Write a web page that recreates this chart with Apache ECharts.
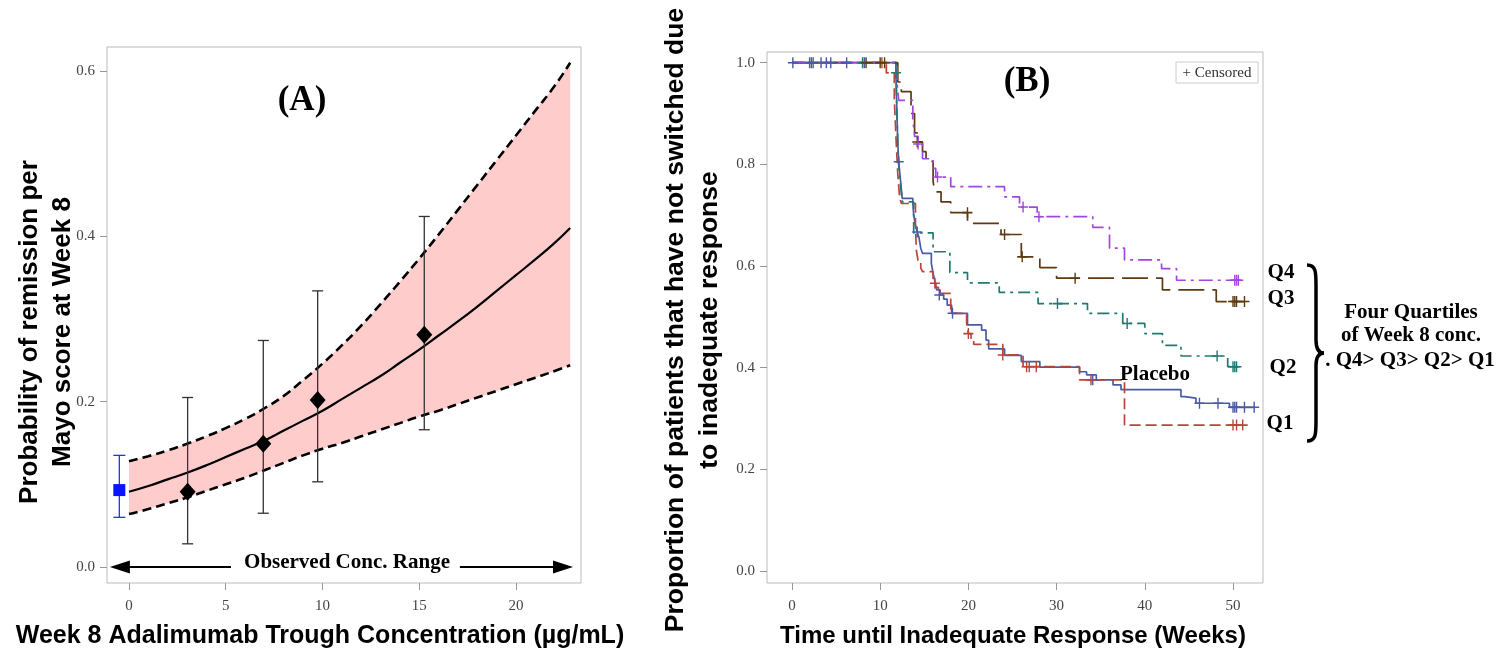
<!DOCTYPE html>
<html><head><meta charset="utf-8">
<script src="https://cdn.jsdelivr.net/npm/echarts@6/dist/echarts.min.js"></script>
<style>html,body{margin:0;padding:0;background:#fff}#c{width:1498px;height:651px}</style>
</head><body><div id="c"></div>
<script>
// ---------- Panel A data ----------
const concX  = [0,1,2,3,4,5,6,7,8,9,10,11,12,13,14,15,16,17,18,19,20,21,22,22.8];
const fitY   = [0.091,0.098,0.106,0.114,0.123,0.133,0.143,0.153,0.165,0.177,0.189,0.203,0.217,0.231,0.247,0.263,0.280,0.297,0.315,0.334,0.353,0.372,0.392,0.410];
const upperY = [0.128,0.134,0.141,0.149,0.158,0.168,0.179,0.192,0.207,0.226,0.246,0.268,0.292,0.318,0.345,0.373,0.402,0.432,0.462,0.492,0.522,0.552,0.582,0.610];
const lowerY = [0.064,0.070,0.077,0.084,0.092,0.100,0.108,0.117,0.126,0.135,0.143,0.150,0.158,0.166,0.174,0.182,0.189,0.197,0.205,0.213,0.221,0.229,0.237,0.244];
const quartileConc = [3.03,6.94,9.75,15.26];
const quartileProb = [0.091,0.149,0.202,0.281];
const quartileLo   = [0.028,0.065,0.103,0.166];
const quartileHi   = [0.205,0.274,0.334,0.424];
const placeboConc = [-0.5];
const placeboProb = [0.093];
const placeboLo   = [0.060];
const placeboHi   = [0.135];
const xTicksA = [0,5,10,15,20];
const yTicksA = [0,0.2,0.4,0.6];

// ---------- Panel B data ----------
const kmNames = ['Placebo','Q1','Q2','Q3','Q4'];
const placeboKM = [[0,1],[11.8,0.97],[11.9,0.90],[12.0,0.84],[12.1,0.805],[12.3,0.77],[12.5,0.733],[13.7,0.725],[13.8,0.70],[14.0,0.68],[14.2,0.667],[14.4,0.656],[14.6,0.635],[14.8,0.625],[15.8,0.605],[16.0,0.586],[16.2,0.57],[16.4,0.553],[16.8,0.543],[17.2,0.535],[17.6,0.523],[18.1,0.507],[19.9,0.484],[21.5,0.474],[22.0,0.454],[22.3,0.437],[24.1,0.424],[26.0,0.412],[28.1,0.401],[32.6,0.392],[33.4,0.386],[34.5,0.376],[36.4,0.366],[37.3,0.357],[44.1,0.343],[44.5,0.34],[45.8,0.33],[49.6,0.322],[52.4,0.322]];
const placeboCens = [[0.1,1],[2.0,1],[2.2,1],[2.4,1],[3.3,1],[3.9,1],[4.4,1],[6.2,1],[8.2,1],[12.1,0.805],[14.2,0.667],[16.7,0.543],[18.2,0.507],[34.1,0.376],[46.2,0.33],[48.3,0.33],[50.0,0.322],[50.2,0.322],[50.4,0.322],[51.3,0.322],[52.4,0.322]];
const q1KM = [[0,1],[10.7,0.98],[11.6,0.93],[11.8,0.85],[12.0,0.78],[12.2,0.735],[12.4,0.723],[14.0,0.68],[14.1,0.631],[14.3,0.61],[14.6,0.596],[14.8,0.589],[16.0,0.566],[16.3,0.558],[16.6,0.546],[18.0,0.507],[19.8,0.487],[20.0,0.467],[20.3,0.455],[20.6,0.446],[23.9,0.425],[26.2,0.402],[32.6,0.376],[37.7,0.287],[51.1,0.287]];
const q1Cens = [[10.2,1],[16.2,0.566],[20.0,0.467],[23.9,0.425],[26.6,0.402],[26.9,0.402],[27.7,0.402],[33.9,0.376],[50.0,0.287],[50.4,0.287],[51.1,0.287]];
const q2KM = [[0,1],[11.8,0.98],[11.9,0.90],[12.0,0.84],[12.1,0.80],[12.3,0.76],[12.5,0.726],[13.8,0.665],[16.0,0.628],[17.9,0.587],[19.9,0.567],[23.5,0.548],[27.9,0.526],[33.5,0.507],[37.5,0.487],[40.0,0.467],[42.0,0.444],[44.1,0.423],[49.4,0.402],[50.6,0.402]];
const q2Cens = [[8.0,1],[11.8,0.98],[30.1,0.526],[38.0,0.487],[48.2,0.423],[50.0,0.402],[50.2,0.402],[50.4,0.402]];
const q3KM = [[0,1],[12.0,0.962],[12.4,0.943],[13.5,0.90],[13.9,0.862],[14.2,0.844],[14.8,0.825],[15.2,0.806],[16.0,0.766],[16.2,0.746],[16.9,0.726],[18.0,0.705],[19.9,0.684],[23.7,0.662],[26.0,0.618],[28.1,0.597],[30.0,0.576],[42.0,0.553],[48.1,0.53],[51.3,0.53]];
const q3Cens = [[8.4,1],[10.0,1],[10.5,1],[14.2,0.844],[19.9,0.705],[24.1,0.662],[26.1,0.618],[32.1,0.576],[50.0,0.53],[50.2,0.53],[50.4,0.53],[51.3,0.53]];
const q4KM = [[0,1],[11.9,0.963],[12.1,0.926],[13.7,0.89],[13.9,0.855],[14.3,0.84],[14.8,0.811],[16.0,0.792],[16.3,0.775],[18.0,0.756],[24.1,0.736],[25.8,0.716],[27.8,0.697],[34.1,0.676],[36.0,0.635],[37.7,0.612],[41.9,0.595],[43.6,0.572],[50.9,0.572]];
const q4Cens = [[14.3,0.84],[16.5,0.775],[26.2,0.716],[28.0,0.697],[50.2,0.572],[50.4,0.572],[50.6,0.572]];
const xTicksB = [0,10,20,30,40,50];
const yTicksB = [0,0.2,0.4,0.6,0.8,1.0];

// ---------- styling ----------
const kmData = [placeboKM,q1KM,q2KM,q3KM,q4KM];
const kmCens = [placeboCens,q1Cens,q2Cens,q3Cens,q4Cens];
const kmColors = ['#4a5ba6','#b5473a','#1f7a70','#5e3a12','#a346e0'];
const kmDash = ['solid',[11,5],[12,5,3,5],[26,8],[14,5,3,5]];
const PLUS = 'path://M4.3,0H5.7V4.3H10V5.7H5.7V10H4.3V5.7H0V4.3H4.3Z';
const SERIF = '"Liberation Serif", "Times New Roman", serif';
const SANS = '"Liberation Sans", Arial, sans-serif';

function axisCommon(ticks, fmt, margin){
  return {
    axisLine:{show:false, onZero:false},
    axisTick:{show:true, customValues:ticks, length:7, lineStyle:{color:'#999', width:1}},
    axisLabel:{customValues:ticks, formatter:fmt, fontFamily:SERIF, fontSize:15, color:'#444', margin:margin},
    splitLine:{show:false}
  };
}

function errorBars(xs, lo, hi, color, capW, lw){
  return {
    type:'custom', xAxisIndex:0, yAxisIndex:0, z:4, silent:true,
    encode:{x:0, y:[1,2]},
    data: xs.map((x,i)=>[x, lo[i], hi[i]]),
    renderItem(params, api){
      const x = api.value(0);
      const a = api.coord([x, api.value(1)]);
      const b = api.coord([x, api.value(2)]);
      const st = {stroke:color, lineWidth:lw};
      return {type:'group', children:[
        {type:'line', shape:{x1:a[0],y1:a[1],x2:b[0],y2:b[1]}, style:st},
        {type:'line', shape:{x1:a[0]-capW/2,y1:a[1],x2:a[0]+capW/2,y2:a[1]}, style:st},
        {type:'line', shape:{x1:b[0]-capW/2,y1:b[1],x2:b[0]+capW/2,y2:b[1]}, style:st}
      ]};
    }
  };
}

const series = [];
// CI band
series.push({
  type:'custom', xAxisIndex:0, yAxisIndex:0, z:1, silent:true,
  encode:{x:0, y:[1,2]},
  data: concX.map((x,i)=>[x, lowerY[i], upperY[i]]),
  renderItem(params, api){
    if (params.dataIndex !== 0) return null;
    const pts = [];
    for (let i=0;i<concX.length;i++) pts.push(api.coord([concX[i], upperY[i]]));
    for (let i=concX.length-1;i>=0;i--) pts.push(api.coord([concX[i], lowerY[i]]));
    return {type:'polygon', shape:{points:pts}, style:{fill:'#ffcccc'}};
  }
});
series.push({type:'line', xAxisIndex:0, yAxisIndex:0, z:3, data:concX.map((x,i)=>[x,upperY[i]]), smooth:true, showSymbol:false, silent:true, lineStyle:{color:'#000', width:2.6, type:[9,5]}});
series.push({type:'line', xAxisIndex:0, yAxisIndex:0, z:3, data:concX.map((x,i)=>[x,lowerY[i]]), smooth:true, showSymbol:false, silent:true, lineStyle:{color:'#000', width:2.6, type:[9,5]}});
series.push({type:'line', xAxisIndex:0, yAxisIndex:0, z:3, data:concX.map((x,i)=>[x,fitY[i]]), smooth:true, showSymbol:false, silent:true, lineStyle:{color:'#000', width:2.2}});
series.push(errorBars(quartileConc, quartileLo, quartileHi, '#333', 11, 1.3));
series.push(errorBars(placeboConc, placeboLo, placeboHi, '#2233ee', 12, 1.3));
series.push({type:'scatter', xAxisIndex:0, yAxisIndex:0, z:5, data:quartileConc.map((x,i)=>[x,quartileProb[i]]), symbol:'diamond', symbolSize:[16,18], itemStyle:{color:'#000', opacity:1}, silent:true});
series.push({type:'scatter', xAxisIndex:0, yAxisIndex:0, z:5, data:placeboConc.map((x,i)=>[x,placeboProb[i]]), symbol:'rect', symbolSize:[12,12], itemStyle:{color:'#0a14ff', opacity:1}, silent:true});
// Observed conc range arrows
series.push({type:'line', xAxisIndex:0, yAxisIndex:0, data:[], silent:true,
  markLine:{silent:true, animation:false, label:{show:false}, lineStyle:{color:'#000', width:2, type:'solid'}, symbol:['triangle','triangle'], symbolSize:[13,20],
    data:[
      [{coord:[-0.47,0], symbol:'triangle'}, {coord:[5.27,0], symbol:'none'}],
      [{coord:[17.1,0], symbol:'none'}, {coord:[22.43,0], symbol:'triangle'}]
    ]}});

// KM curves
for (let k=0;k<kmNames.length;k++){
  series.push({name:kmNames[k], type:'line', step:'end', xAxisIndex:1, yAxisIndex:1, data:kmData[k], showSymbol:false, silent:true, z:3+k,
    lineStyle:{color:kmColors[k], width:1.7, type:kmDash[k]}});
}
for (let k=0;k<kmNames.length;k++){
  series.push({name:kmNames[k]+' censored', type:'scatter', xAxisIndex:1, yAxisIndex:1, data:kmCens[k], symbol:PLUS, symbolSize:[10,11], silent:true, z:10,
    itemStyle:{color:kmColors[k], opacity:1}});
}

function txt(x, y, text, font, extra){
  return Object.assign({type:'text', x:x, y:y, z:20, style:{text:text, font:font, fill:'#000', align:'center', verticalAlign:'middle', textAlign:'center', textVerticalAlign:'middle'}}, extra||{});
}
const braceStyle = {stroke:'#000', lineWidth:3.5, fill:null};

const chart = echarts.init(document.getElementById('c'), null, {renderer:'canvas'});
chart.setOption({
  animation:false,
  backgroundColor:'#fff',
  grid:[
    {left:107, right:1498-581, top:47, bottom:651-583, show:true, borderColor:'#bbb', borderWidth:1, backgroundColor:'#fff'},
    {left:767, right:1498-1263, top:52, bottom:651-583, show:true, borderColor:'#bbb', borderWidth:1, backgroundColor:'#fff'}
  ],
  xAxis:[
    Object.assign({type:'value', gridIndex:0, min:-1.137, max:23.36}, axisCommon(xTicksA, v=>String(v), 16)),
    Object.assign({type:'value', gridIndex:1, min:-2.83, max:53.4}, axisCommon(xTicksB, v=>String(v), 16))
  ],
  yAxis:[
    Object.assign({type:'value', gridIndex:0, min:-0.0194, max:0.629}, axisCommon(yTicksA, v=>v.toFixed(1), 12)),
    Object.assign({type:'value', gridIndex:1, min:-0.0236, max:1.021}, axisCommon(yTicksB, v=>v.toFixed(1), 12))
  ],
  series: series,
  graphic:[
    (function(){ const t = txt(46, 332, 'Probability of remission per\nMayo score at Week 8', 'bold 26px '+SANS, {rotation:Math.PI/2}); t.style.lineHeight = 33; return t; })(),
    txt(320, 636, 'Week 8 Adalimumab Trough Concentration (\u00b5g/mL)', 'bold 25px '+SANS),
    txt(302, 101, '(A)', 'bold 35px '+SERIF),
    txt(347, 563, 'Observed Conc. Range', 'bold 21px '+SERIF),
    (function(){ const t = txt(693, 320, 'Proportion of patients that have not switched due\nto inadequate response', 'bold 26.5px '+SANS, {rotation:Math.PI/2}); t.style.lineHeight = 34; return t; })(),
    txt(1013, 636, 'Time until Inadequate Response (Weeks)', 'bold 24px '+SANS),
    txt(1027, 82, '(B)', 'bold 35px '+SERIF),
    {type:'rect', z:19, shape:{x:1176, y:62, width:82, height:21}, style:{fill:'#fff', stroke:'#ccc', lineWidth:1}},
    (function(){ const t = txt(1217, 73, '+ Censored', '15px '+SERIF); t.style.fill = '#333'; return t; })(),
    txt(1155, 375, 'Placebo', 'bold 21px '+SERIF),
    txt(1281, 273, 'Q4', 'bold 21px '+SERIF),
    txt(1281, 299, 'Q3', 'bold 21px '+SERIF),
    txt(1283, 368, 'Q2', 'bold 21px '+SERIF),
    txt(1280, 424, 'Q1', 'bold 21px '+SERIF),
    {type:'bezierCurve', shape:{x1:1307,y1:265,cpx1:1316,cpy1:265,cpx2:1316,cpy2:272,x2:1316,y2:286}, style:braceStyle},
    {type:'line', shape:{x1:1316,y1:286,x2:1316,y2:340}, style:braceStyle},
    {type:'bezierCurve', shape:{x1:1316,y1:340,cpx1:1316,cpy1:349,cpx2:1319,cpy2:353,x2:1324,y2:353}, style:braceStyle},
    {type:'bezierCurve', shape:{x1:1324,y1:353,cpx1:1319,cpy1:353,cpx2:1316,cpy2:357,x2:1316,y2:366}, style:braceStyle},
    {type:'line', shape:{x1:1316,y1:366,x2:1316,y2:421}, style:braceStyle},
    {type:'bezierCurve', shape:{x1:1316,y1:421,cpx1:1316,cpy1:434,cpx2:1316,cpy2:441,x2:1307,y2:441}, style:braceStyle},
    txt(1411, 313, 'Four Quartiles', 'bold 21px '+SERIF),
    txt(1411, 336, 'of Week 8 conc.', 'bold 21px '+SERIF),
    txt(1410, 361, '. Q4> Q3> Q2> Q1', 'bold 21px '+SERIF)
  ]
});
</script></body></html>
